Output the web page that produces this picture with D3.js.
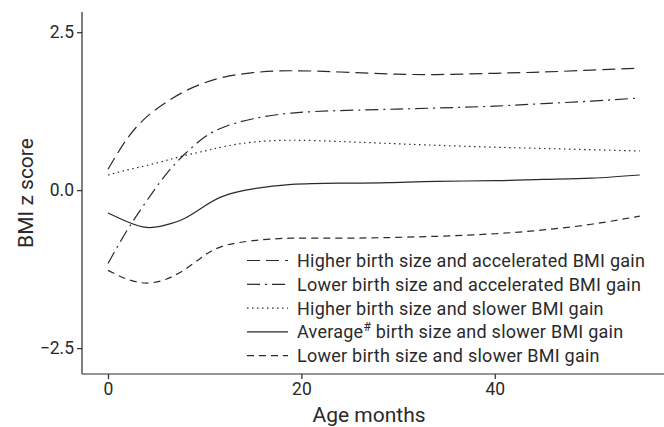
<!DOCTYPE html>
<html><head><meta charset="utf-8">
<script src="https://cdn.jsdelivr.net/npm/d3@7"></script>
<style>body{margin:0;background:#fff}svg{display:block}text{font-family:Roboto,"Noto Sans",sans-serif;fill:#2a2a2a}</style>
</head><body><svg id="c" width="664" height="427"></svg>
<script>
const months = [0, 2, 4, 6, 8, 10, 12, 15, 19, 24, 29, 34, 40, 45, 50, 55];
const higherAccel = [0.33, 0.82, 1.16, 1.39, 1.57, 1.70, 1.79, 1.86, 1.89, 1.87, 1.84, 1.83, 1.85, 1.87, 1.90, 1.93];
const lowerAccel  = [-1.16, -0.63, -0.17, 0.25, 0.58, 0.84, 1.00, 1.13, 1.22, 1.26, 1.28, 1.30, 1.33, 1.37, 1.41, 1.46];
const higherSlow  = [0.24, 0.32, 0.39, 0.47, 0.55, 0.62, 0.69, 0.76, 0.79, 0.77, 0.74, 0.71, 0.68, 0.66, 0.64, 0.62];
const averageSlow = [-0.36, -0.50, -0.59, -0.55, -0.44, -0.25, -0.09, 0.02, 0.09, 0.11, 0.12, 0.14, 0.15, 0.17, 0.19, 0.24];
const lowerSlow   = [-1.27, -1.41, -1.47, -1.41, -1.25, -1.03, -0.88, -0.80, -0.76, -0.76, -0.75, -0.73, -0.69, -0.63, -0.54, -0.41];
const seriesNames = ["Higher birth size and accelerated BMI gain","Lower birth size and accelerated BMI gain","Higher birth size and slower BMI gain","Average# birth size and slower BMI gain","Lower birth size and slower BMI gain"];
const seriesValues = [higherAccel, lowerAccel, higherSlow, averageSlow, lowerSlow];
const dashes = ["13,6", "13,5,2,5", "1.5,3.5", null, "7,5"];
const xTicks = [0, 20, 40];
const yTicks = [-2.5, 0, 2.5];

const svg = d3.select("#c");
const x = d3.scaleLinear().domain([-2.69, 57.4]).range([82, 663]);
const y = d3.scaleLinear().domain([-2.91, 2.82]).range([374, 12]);
const ink = "#2a2a2a";

const line = d3.line().x(d => x(d[0])).y(d => y(d[1])).curve(d3.curveNatural);
seriesValues.forEach((vals, i) => {
  svg.append("path").datum(months.map((m, j) => [m, vals[j]]))
    .attr("d", line).attr("fill", "none").attr("stroke", ink)
    .attr("stroke-width", 1.2).attr("stroke-dasharray", dashes[i]);
});

// axes
const gx = svg.append("g").attr("transform", "translate(0,374)")
  .call(d3.axisBottom(x).tickValues(xTicks).tickSize(5).tickPadding(4).tickFormat(d3.format("d")));
const gy = svg.append("g").attr("transform", "translate(82,0)")
  .call(d3.axisLeft(y).tickValues(yTicks).tickSize(5).tickPadding(3).tickFormat(d => d3.format(".1f")(d).replace("-", "\u2212")));
[gx, gy].forEach(g => {
  g.select(".domain").attr("stroke", ink).attr("stroke-width", 1.2);
  g.selectAll(".tick line").attr("stroke", ink).attr("stroke-width", 1.2);
  g.selectAll(".tick text").attr("fill", ink).style("font-size", "17.5px").style("font-family", "Roboto");
});
gx.select(".domain").attr("d", "M82,0H664");
gy.select(".domain").attr("d", "M0,12V374");

svg.append("text").attr("x", 369).attr("y", 422).attr("text-anchor", "middle")
  .style("font-size", "21px").text("Age months");
svg.append("text").attr("transform", "translate(33,193) rotate(-90)").attr("text-anchor", "middle")
  .style("font-size", "21px").text("BMI z score");

// legend
const lg = svg.append("g");
seriesNames.forEach((name, i) => {
  const cy = 260.5 + i * 23.8;
  lg.append("line").attr("x1", 247).attr("x2", 288).attr("y1", cy).attr("y2", cy)
    .attr("stroke", ink).attr("stroke-width", 1.2).attr("stroke-dasharray", dashes[i]);
  const t = lg.append("text").attr("x", 297).attr("y", cy + 6.5)
    .style("font-size", "18px").style("letter-spacing", "0.25px");
  if (name.includes("#")) {
    const parts = name.split("#");
    t.append("tspan").text(parts[0]);
    t.append("tspan").attr("dy", -7).style("font-size", "12px").text("#");
    t.append("tspan").attr("dy", 7).text(parts[1]);
  } else t.text(name);
});
</script></body></html>
